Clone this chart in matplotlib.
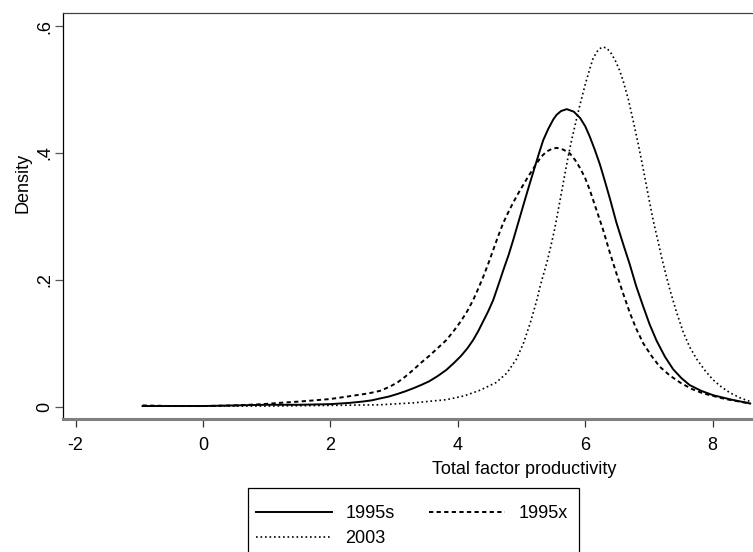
import matplotlib
matplotlib.use("Agg")
import matplotlib.pyplot as plt
from matplotlib.patches import Rectangle

plt.rcParams['font.family'] = ['Liberation Sans', 'DejaVu Sans']

# kernel density estimates of total factor productivity, read as (x, density)
x_1995s = [-0.95, 0.0, 0.5, 1.0, 1.5, 2.0, 2.3, 2.5, 2.65, 2.78, 2.92, 3.05, 3.17,
           3.30, 3.42, 3.55, 3.68, 3.82, 3.94, 4.05, 4.15, 4.24, 4.32, 4.40, 4.48,
           4.555, 4.64, 4.72, 4.80, 4.87, 4.96, 5.05, 5.13, 5.20, 5.27, 5.34, 5.42,
           5.50, 5.55, 5.62, 5.71, 5.82, 5.92, 6.00, 6.07, 6.15, 6.23, 6.31, 6.39,
           6.49, 6.60, 6.70, 6.80, 6.91, 7.01, 7.12, 7.25, 7.38, 7.51, 7.64, 7.82,
           8.01, 8.30, 8.59]
d_1995s = [0.001, 0.001, 0.002, 0.003, 0.003, 0.004, 0.006, 0.008, 0.010, 0.013,
           0.016, 0.020, 0.024, 0.029, 0.034, 0.040, 0.048, 0.058, 0.069, 0.080,
           0.092, 0.105, 0.119, 0.135, 0.151, 0.168, 0.193, 0.217, 0.240, 0.263,
           0.294, 0.325, 0.352, 0.375, 0.398, 0.420, 0.438, 0.453, 0.460, 0.466,
           0.469, 0.465, 0.455, 0.442, 0.426, 0.405, 0.382, 0.355, 0.327, 0.290,
           0.255, 0.224, 0.190, 0.158, 0.130, 0.104, 0.079, 0.059, 0.045, 0.034,
           0.025, 0.018, 0.011, 0.005]

x_1995x = [-0.95, -0.5, 0.0, 0.5, 0.94, 1.2, 1.5, 1.75, 1.99, 2.2, 2.4, 2.6, 2.78,
           2.92, 3.05, 3.17, 3.30, 3.42, 3.55, 3.68, 3.82, 3.94, 4.05, 4.15, 4.24,
           4.32, 4.40, 4.48, 4.555, 4.63, 4.71, 4.79, 4.87, 4.97, 5.10, 5.17, 5.24,
           5.31, 5.39, 5.47, 5.55, 5.66, 5.76, 5.84, 5.92, 6.00, 6.07, 6.15, 6.23,
           6.28, 6.38, 6.49, 6.60, 6.70, 6.80, 6.91, 7.04, 7.17, 7.33, 7.49, 7.67,
           7.85, 8.20, 8.59]
d_1995x = [0.002, 0.001, 0.001, 0.002, 0.004, 0.006, 0.008, 0.010, 0.012, 0.015,
           0.018, 0.021, 0.025, 0.031, 0.038, 0.047, 0.058, 0.069, 0.080, 0.092,
           0.105, 0.120, 0.135, 0.151, 0.168, 0.186, 0.205, 0.226, 0.247, 0.268,
           0.289, 0.306, 0.322, 0.340, 0.362, 0.373, 0.384, 0.394, 0.402, 0.406,
           0.408, 0.405, 0.399, 0.389, 0.376, 0.360, 0.342, 0.318, 0.294, 0.279,
           0.245, 0.210, 0.177, 0.148, 0.123, 0.100, 0.080, 0.063, 0.049, 0.038,
           0.028, 0.021, 0.012, 0.005]

x_2003 = [-0.95, 0.0, 1.0, 2.0, 2.78, 3.30, 3.82, 4.10, 4.35, 4.60, 4.77, 4.92,
          5.03, 5.14, 5.24, 5.29, 5.34, 5.40, 5.46, 5.52, 5.58, 5.65, 5.72, 5.79,
          5.86, 5.92, 6.00, 6.07, 6.12, 6.18, 6.22, 6.28, 6.34, 6.40, 6.47, 6.54,
          6.60, 6.68, 6.75, 6.83, 6.91, 6.99, 7.07, 7.14, 7.20, 7.27, 7.33, 7.43,
          7.54, 7.64, 7.75, 7.88, 8.01, 8.14, 8.27, 8.43, 8.59]
d_2003 = [0.001, 0.001, 0.001, 0.002, 0.003, 0.006, 0.011, 0.017, 0.026, 0.038,
          0.053, 0.075, 0.100, 0.133, 0.168, 0.189, 0.207, 0.228, 0.253, 0.280,
          0.312, 0.350, 0.388, 0.422, 0.452, 0.477, 0.508, 0.532, 0.548, 0.559,
          0.564, 0.567, 0.565, 0.558, 0.546, 0.530, 0.512, 0.483, 0.452, 0.415,
          0.375, 0.333, 0.292, 0.262, 0.235, 0.207, 0.184, 0.150, 0.117, 0.094,
          0.075, 0.057, 0.042, 0.031, 0.022, 0.014, 0.008]

x_ticks = [-2, 0, 2, 4, 6, 8]
y_ticks = [0, 0.2, 0.4, 0.6]
y_tick_labels = ['0', '.2', '.4', '.6']

FS = 13

fig = plt.figure(figsize=(7.53, 5.52), dpi=100)
ax = fig.add_axes([0.0841, 0.2404, 0.9159, 0.736])

l1, = ax.plot(x_1995s, d_1995s, color='black', lw=1.4, linestyle='-')
l2, = ax.plot(x_1995x, d_1995x, color='black', lw=1.4, linestyle=(0, (2.2, 1.7)))
l3, = ax.plot(x_2003, d_2003, color='black', lw=1.2, linestyle=(0, (1, 1.7)))

ax.set_xlim(-2.194, 8.634)
ax.set_ylim(-0.0199, 0.6205)

ax.set_xticks(x_ticks)
ax.set_xticklabels([str(t) for t in x_ticks])
ax.set_yticks(y_ticks)
ax.set_yticklabels(y_tick_labels, rotation=90, va='center')
ax.tick_params(axis='x', direction='out', length=6, width=0.9, color='#333333',
               labelsize=FS, pad=7)
ax.tick_params(axis='y', direction='out', length=5.5, width=0.9, color='#555555',
               labelsize=FS, pad=1.5)

ax.spines['right'].set_visible(False)
ax.spines['left'].set_color('black')
ax.spines['left'].set_linewidth(0.9)
ax.spines['top'].set_color('#444444')
ax.spines['top'].set_linewidth(0.9)
ax.spines['bottom'].set_color('#808080')
ax.spines['bottom'].set_linewidth(2.2)

fig.text(524 / 753, 1 - 470 / 552, 'Total factor productivity', ha='center',
         va='center', fontsize=FS)
fig.text(23 / 753, 1 - 183 / 552, 'Density', ha='center', va='center',
         rotation=90, fontsize=FS)

# legend box, runs past the bottom edge of the figure
fig.patches.append(Rectangle((248 / 753, 1 - 580 / 552), 331 / 753, 92 / 552,
                             transform=fig.transFigure, fill=False,
                             edgecolor='black', lw=0.9))

# entries laid out row by row: 1995s, 1995x / 2003
leg = fig.legend([l1, l3, l2], ['1995s', '2003', '1995x'], ncol=2,
                 loc='upper left', bbox_to_anchor=(256 / 753, 1 - 505 / 552),
                 borderaxespad=0, borderpad=0, fontsize=FS, handlelength=4.2,
                 handletextpad=0.75, columnspacing=1.9, labelspacing=0.45,
                 frameon=False)

fig.savefig('out.png', dpi=100)
